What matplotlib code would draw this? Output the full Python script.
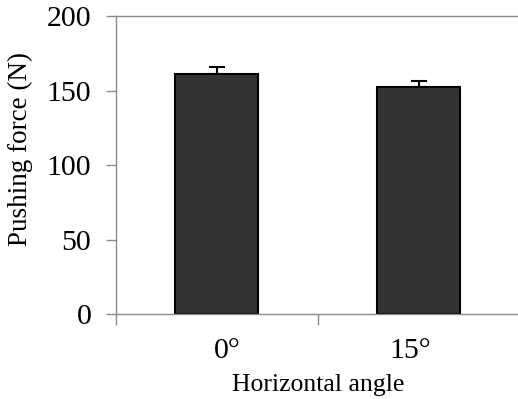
import matplotlib.pyplot as plt
import matplotlib.transforms as mtransforms
import numpy as np

categories = ["0°", "15°"]
force = [161, 152.5]
err_up = [4.5, 4.2]

plt.rcParams["font.family"] = ["Liberation Serif", "DejaVu Serif"]

fig = plt.figure(figsize=(5.18, 3.99), dpi=100)
ax = fig.add_axes([0.2234, 0.2118, 0.78, 0.7482])

x = np.arange(len(categories)) + 0.5
ax.bar(x, force, width=0.41, color="#333333", edgecolor="black", linewidth=1.5, zorder=2)
ax.errorbar(x, force, yerr=[[0, 0], err_up], fmt="none", ecolor="black",
            elinewidth=1.5, capsize=6, capthick=1.5, zorder=1)

ax.set_xlim(0, 2)
ax.set_ylim(0, 200)
ax.set_yticks([0, 50, 100, 150, 200])
ax.set_xticks(x)
ax.set_xticklabels(categories)
ax.set_xticks([0, 1, 2], minor=True)

gray = "#8c8c8c"
for side in ["left", "bottom", "top"]:
    ax.spines[side].set_color(gray)
    ax.spines[side].set_linewidth(1)
ax.spines["right"].set_visible(False)

ax.tick_params(axis="y", direction="out", length=7.5, width=1, color=gray,
               labelsize=21.5, pad=10)
ax.tick_params(axis="x", which="major", length=0, labelsize=21.5, pad=17)
ax.tick_params(axis="x", which="minor", direction="out", length=8, width=1, color=gray)

# nudge the tick labels a little, as in the original
for lab, dx in zip(ax.get_xticklabels(), [11, -9]):
    lab.set_transform(lab.get_transform() +
                      mtransforms.ScaledTranslation(dx / 100, 0, fig.dpi_scale_trans))

ax.set_xlabel("Horizontal angle", fontsize=18.5, labelpad=7)
ax.set_ylabel("Pushing force (N)", fontsize=19.5)
ax.yaxis.set_label_coords(-0.205, 0.554)

fig.savefig("out.png", dpi=100)
